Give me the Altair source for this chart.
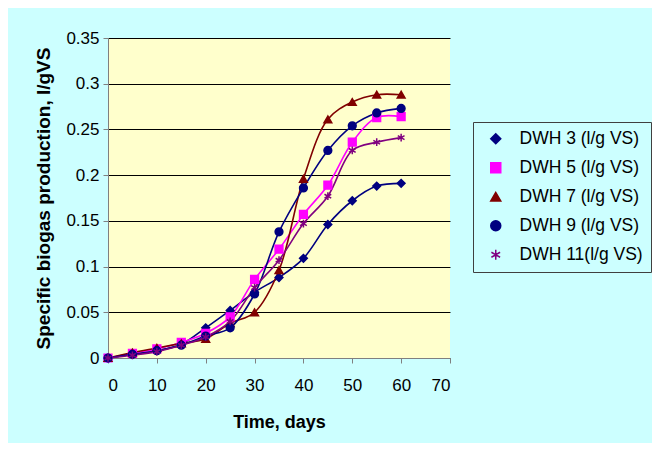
import altair as alt
import pandas as pd
import json

days = [0, 5, 10, 15, 20, 25, 30, 35, 40, 45, 50, 55, 60]
series_names = ["DWH 3 (l/g VS)", "DWH 5 (l/g VS)", "DWH 7 (l/g VS)", "DWH 9 (l/g VS)", "DWH 11(l/g VS)"]
dwh3 = [0, 0.004, 0.008, 0.015, 0.033, 0.052, 0.072, 0.088, 0.109, 0.146, 0.172, 0.188, 0.191]
dwh5 = [0, 0.005, 0.010, 0.017, 0.027, 0.045, 0.086, 0.119, 0.157, 0.189, 0.236, 0.263, 0.264]
dwh7 = [0, 0.006, 0.011, 0.016, 0.021, 0.038, 0.050, 0.096, 0.196, 0.261, 0.280, 0.288, 0.288]
dwh9 = [0, 0.004, 0.008, 0.014, 0.024, 0.033, 0.070, 0.138, 0.186, 0.227, 0.254, 0.268, 0.273]
dwh11 = [0, 0.003, 0.007, 0.014, 0.023, 0.040, 0.077, 0.107, 0.147, 0.177, 0.227, 0.236, 0.241]
x_ticks = [0, 10, 20, 30, 40, 50, 60, 70]
y_ticks = [0, 0.05, 0.1, 0.15, 0.2, 0.25, 0.3, 0.35]

colors = ["#000080", "#FF00FF", "#800000", "#000080", "#800080"]
asterisk = "M0,-1L0,1M-0.87,-0.5L0.87,0.5M-0.87,0.5L0.87,-0.5"
shapes = ["diamond", "square", "triangle-up", "circle", asterisk]

# legend symbols: a line segment through each marker
seg = "M-3.4,0L3.4,0"
legend_paths = [
    seg + "M0,-1L0.75,0L0,1L-0.75,0Z",
    seg + "M-0.8,-0.8L0.8,-0.8L0.8,0.8L-0.8,0.8Z",
    seg + "M0,-1L1,0.8L-1,0.8Z",
    seg + "M-0.8,0A0.8,0.8 0 1,1 0.8,0A0.8,0.8 0 1,1 -0.8,0Z",
    seg + asterisk,
]
shape_expr = "{}[indexof({}, datum.value)]".format(json.dumps(legend_paths).replace('"', "'"),
                                                  json.dumps(series_names).replace('"', "'"))

rows = []
for name, vals in zip(series_names, [dwh3, dwh5, dwh7, dwh9, dwh11]):
    for d, v in zip(days, vals):
        rows.append({"day": d, "value": v, "series": name, "marker": name})
df = pd.DataFrame(rows)

FONT = "Liberation Sans"

x_enc = alt.X("day:Q", scale=alt.Scale(domain=[0, 70], nice=False),
              axis=alt.Axis(values=x_ticks, title="Time, days", grid=False))
y_enc = alt.Y("value:Q", scale=alt.Scale(domain=[0, 0.35], nice=False),
              axis=alt.Axis(values=y_ticks, format="~g",
                            title="Specific biogas production, l/gVS",
                            grid=True, titleFontSize=19))
color_scale = alt.Scale(domain=series_names, range=colors)
leg = alt.Legend(title=None, orient="none", legendX=365, legendY=84,
                 symbolType=alt.ExprRef(expr=shape_expr))

lines = alt.Chart(df).mark_line(interpolate="catmull-rom", strokeWidth=1.6).encode(
    x=x_enc, y=y_enc,
    color=alt.Color("series:N", scale=color_scale, sort=series_names, legend=leg),
)

points = alt.Chart(df).mark_point(filled=True, size=60, opacity=1, strokeWidth=1.5).encode(
    x=x_enc, y=y_enc,
    color=alt.Color("series:N", scale=color_scale, sort=series_names, legend=leg),
    stroke=alt.Stroke("series:N", scale=color_scale, sort=series_names, legend=leg),
    shape=alt.Shape("marker:N", scale=alt.Scale(domain=series_names, range=shapes),
                    legend=None),
)

chart = alt.layer(lines, points).properties(
    width=342, height=320,
    autosize=alt.AutoSizeParams(type="none"),
    padding={"left": 100, "top": 30, "right": 202, "bottom": 85},
    background="#CCFFFF",
).configure_view(
    fill="#FFFFCC", stroke=None,
).configure_axis(
    labelFont=FONT, titleFont=FONT, labelFontSize=17, titleFontSize=18,
    labelColor="black", titleColor="black", titleFontWeight="bold",
    domainColor="#808080", tickColor="#808080", tickSize=5,
    gridColor="black", gridWidth=1, gridOpacity=1,
).configure_axisX(
    labelPadding=14, titlePadding=20,
).configure_axisY(
    labelPadding=4, titlePadding=12,
).configure_legend(
    labelFont=FONT, labelFontSize=17.5, labelColor="black",
    strokeColor="#404040", fillColor="#CCFFFF", padding=8,
    rowPadding=10, symbolSize=100, symbolStrokeWidth=1.5, labelLimit=300,
    symbolOffset=6, labelOffset=15,
)

chart.save("out.html", embed_options={"renderer": "svg", "actions": False})
